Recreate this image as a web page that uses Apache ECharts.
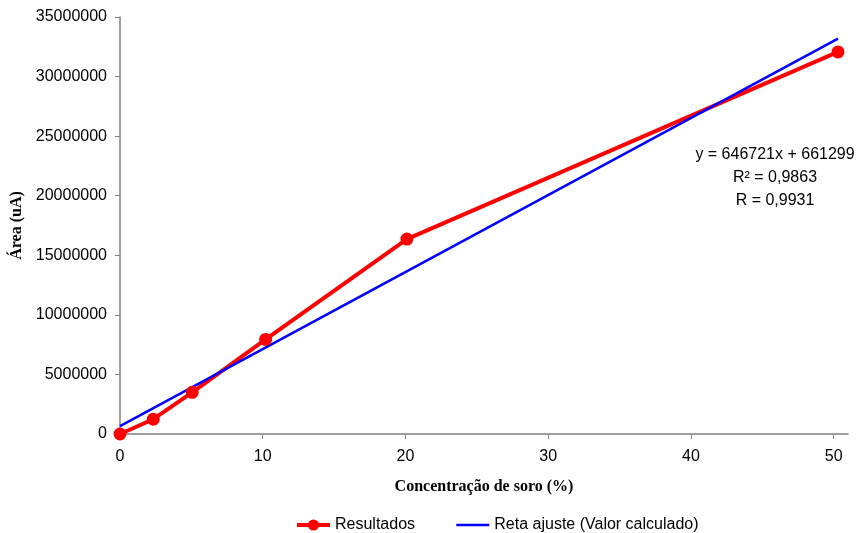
<!DOCTYPE html>
<html>
<head>
<meta charset="utf-8">
<script src="https://cdn.jsdelivr.net/npm/echarts@6/dist/echarts.min.js"></script>
<style>
  html, body { margin: 0; padding: 0; background: #fff; }
  #chart { width: 858px; height: 533px; }
</style>
</head>
<body>
<div id="chart"></div>
<script>
// measured points (concentração %, área uA)
var concentracao = [0, 2.33, 5.06, 10.2, 20.1, 50.3];
var area = [0, 1240000, 3500000, 7940000, 16360000, 32070000];

// fitted line ends, y = 646721x + 661299
var retaX = [0, 50.3];
var retaY = [661299, 33191366];

var eqLines = ['y = 646721x + 661299', 'R² = 0,9863', 'R = 0,9931'];

var sans = "'Liberation Sans', Arial, sans-serif";
var serif = "'Liberation Serif', 'Times New Roman', serif";
var axisGray = '#808080';

var myChart = echarts.init(document.getElementById('chart'));

var resultados = concentracao.map(function (x, i) { return [x, area[i]]; });
var reta = retaX.map(function (x, i) { return [x, retaY[i]]; });

option = {
    animation: false,
    grid: { left: 120, right: 10, top: 17, bottom: 99, containLabel: false, outerBoundsMode: 'none' },
    legend: {
        left: 290,
        top: 512,
        itemWidth: 33,
        itemHeight: 14,
        itemGap: 40,
        textStyle: { fontFamily: sans, fontSize: 16, color: '#000' },
        data: [
            { name: 'Resultados', lineStyle: { width: 4 } },
            { name: 'Reta ajuste (Valor calculado)', lineStyle: { width: 2.5 }, itemStyle: { opacity: 0 } }
        ]
    },
    xAxis: {
        type: 'value',
        min: 0,
        max: 51,
        interval: 10,
        name: 'Concentração de soro (%)',
        nameLocation: 'middle',
        nameGap: 45,
        nameTextStyle: { fontFamily: serif, fontWeight: 'bold', fontSize: 16, color: '#000' },
        axisLine: { show: true, lineStyle: { color: axisGray, width: 1.5 } },
        axisTick: { show: true, length: 5, lineStyle: { color: axisGray } },
        axisLabel: { fontFamily: sans, fontSize: 16, color: '#000', margin: 15 },
        splitLine: { show: false }
    },
    yAxis: {
        type: 'value',
        min: 0,
        max: 35000000,
        interval: 5000000,
        name: 'Área (uA)',
        nameLocation: 'middle',
        nameRotate: 90,
        nameGap: 93,
        nameTextStyle: { fontFamily: serif, fontWeight: 'bold', fontSize: 16, color: '#000' },
        axisLine: { show: true, lineStyle: { color: axisGray, width: 1.5 } },
        axisTick: { show: true, length: 5, lineStyle: { color: axisGray } },
        axisLabel: {
            fontFamily: sans, fontSize: 16, color: '#000', margin: 13,
            formatter: function (v) { return String(v); }
        },
        splitLine: { show: false }
    },
    graphic: eqLines.map(function (t, i) {
        return {
            type: 'text',
            x: 775,
            y: 155 + i * 23,
            style: {
                text: t,
                fill: '#000',
                font: '16px ' + sans,
                textAlign: 'center',
                textVerticalAlign: 'middle'
            }
        };
    }),
    series: [
        {
            name: 'Resultados',
            type: 'line',
            data: resultados,
            symbol: 'circle',
            symbolSize: 13,
            lineStyle: { color: '#ff0000', width: 4 },
            itemStyle: { color: '#ff0000' }
        },
        {
            name: 'Reta ajuste (Valor calculado)',
            type: 'line',
            data: reta,
            symbol: 'none',
            lineStyle: { color: '#0000ff', width: 2.5 },
            itemStyle: { color: '#0000ff' }
        }
    ]
};
myChart.setOption(option);
</script>
</body>
</html>
